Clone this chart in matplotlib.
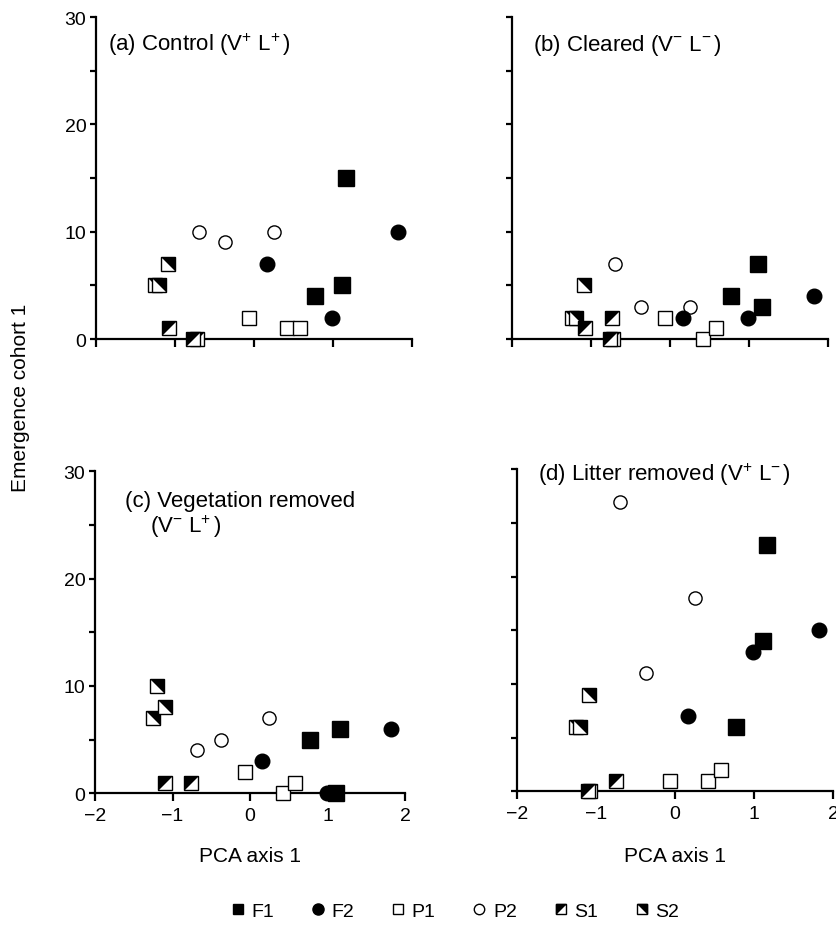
import matplotlib
matplotlib.use("Agg")
import matplotlib.pyplot as plt
from matplotlib.lines import Line2D
from matplotlib.legend_handler import HandlerTuple

plt.rcParams['font.family'] = ['Liberation Sans', 'DejaVu Sans']
plt.rcParams['mathtext.fontset'] = 'custom'
plt.rcParams['mathtext.rm'] = 'Liberation Sans'
plt.rcParams['mathtext.default'] = 'regular'

# site positions on PCA axis 1 (same sites in every panel)
F1_x = [0.77, 1.11, 1.16]
F2_x = [0.16, 0.99, 1.82]
P1_x = [-0.06, 0.42, 0.58]
P2_x = [-0.69, -0.37, 0.25]

# emergence cohort 1 per panel, same site order
F1_y = {'a': [4, 5, 15], 'b': [4, 7, 3], 'c': [5, 0, 6], 'd': [6, 14, 23]}
F2_y = {'a': [7, 2, 10], 'b': [2, 2, 4], 'c': [3, 0, 6], 'd': [7, 13, 15]}
P1_y = {'a': [2, 1, 1], 'b': [2, 0, 1], 'c': [2, 0, 1], 'd': [1, 1, 2]}
P2_y = {'a': [10, 9, 10], 'b': [7, 3, 3], 'c': [4, 5, 7], 'd': [27, 11, 18]}

# S1 / S2 points (overlapping ones included)
S1_x = {'a': [-1.08, -0.72, -0.77], 'b': [-1.08, -0.74, -0.72, -0.76],
        'c': [-1.10, -0.76], 'd': [-1.07, -1.10, -0.75]}
S1_y = {'a': [1, 0, 0], 'b': [1, 2, 0, 0], 'c': [1, 1], 'd': [0, 0, 1]}
S2_x = {'a': [-1.25, -1.20, -1.09], 'b': [-1.24, -1.19, -1.09],
        'c': [-1.25, -1.20, -1.10], 'd': [-1.25, -1.20, -1.09]}
S2_y = {'a': [5, 5, 7], 'b': [2, 2, 5], 'c': [7, 10, 8], 'd': [6, 6, 9]}

titles = {'a': '(a) Control (V$^{+}$ L$^{+\\,}$)',
          'b': '(b) Cleared (V$^{-}$ L$^{-\\,}$)',
          'c': '(c) Vegetation removed',
          'd': '(d) Litter removed (V$^{+}$ L$^{-\\,}$)'}

tri_s1 = [(-1, -1), (-1, 1), (1, 1)]   # black upper-left half
tri_s2 = [(-1, 1), (1, 1), (1, -1)]    # black upper-right half

fig = plt.figure(figsize=(8.37, 9.29), dpi=100)
pos = {'a': [0.1147, 0.634, 0.3775, 0.3466],
       'b': [0.6117, 0.634, 0.3775, 0.3466],
       'c': [0.1135, 0.145, 0.3704, 0.3466],
       'd': [0.6177, 0.147, 0.3775, 0.3466]}


def half_square(ax, xs, ys, tri, ms=11):
    for x, y in zip(xs, ys):
        ax.plot([x], [y], ls='none', marker='s', ms=ms - 1, mfc='white',
                mec='black', mew=1, clip_on=False, zorder=3)
        ax.plot([x], [y], ls='none', marker=tri, ms=ms - 1, mfc='black',
                mec='black', mew=0.5, clip_on=False, zorder=3)


for k in ['a', 'b', 'c', 'd']:
    ax = fig.add_axes(pos[k])
    ax.set_xlim(-2, 2)
    ax.set_ylim(0, 30)
    for s in ['top', 'right']:
        ax.spines[s].set_visible(False)
    for s in ['left', 'bottom']:
        ax.spines[s].set_linewidth(1.6)
    ax.set_xticks([-2, -1, 0, 1, 2])
    ax.set_yticks([0, 10, 20, 30])
    ax.set_yticks([5, 15, 25], minor=True)
    ax.tick_params(axis='x', which='major', direction='out', length=6, width=1.6, labelsize=14, pad=4)
    ax.tick_params(axis='y', which='both', direction='out', length=4, width=1.6, labelsize=14, pad=3)
    if k in ['a', 'b']:
        ax.set_xticklabels([])
    else:
        ax.set_xticklabels(['\u22122', '\u22121', '0', '1', '2'])
    if k in ['b', 'd']:
        ax.set_yticklabels([])

    half_square(ax, S2_x[k], S2_y[k], tri_s2)
    half_square(ax, S1_x[k], S1_y[k], tri_s1)
    ax.plot(P1_x, P1_y[k], ls='none', marker='s', ms=9.5, mfc='white', mec='black', mew=1, clip_on=False, zorder=3)
    ax.plot(P2_x, P2_y[k], ls='none', marker='o', ms=9.5, mfc='white', mec='black', mew=1, clip_on=False, zorder=3)
    ax.plot(F1_x, F1_y[k], ls='none', marker='s', ms=11, color='black', clip_on=False, zorder=4)
    ax.plot(F2_x, F2_y[k], ls='none', marker='o', ms=10.5, color='black', clip_on=False, zorder=4)

    if k == 'a':
        ax.text(0.038, 0.916, titles[k], transform=ax.transAxes, fontsize=16, va='center')
    elif k == 'b':
        ax.text(0.066, 0.916, titles[k], transform=ax.transAxes, fontsize=16, va='center')
    elif k == 'c':
        ax.text(0.097, 0.91, titles[k], transform=ax.transAxes, fontsize=16, va='center')
        ax.text(0.177, 0.83, '(V$^{-}$ L$^{+\\,}$)', transform=ax.transAxes, fontsize=16, va='center')
    else:
        ax.text(0.066, 0.988, titles[k], transform=ax.transAxes, fontsize=16, va='center')

fig.text(0.024, 0.572, 'Emergence cohort 1', rotation=90, fontsize=15, ha='center', va='center')
fig.text(0.299, 0.078, 'PCA axis 1', fontsize=15, ha='center', va='center')
fig.text(0.806, 0.078, 'PCA axis 1', fontsize=15, ha='center', va='center')

# legend
h_f1 = Line2D([], [], ls='none', marker='s', ms=7, color='black')
h_f2 = Line2D([], [], ls='none', marker='o', ms=8, color='black')
h_p1 = Line2D([], [], ls='none', marker='s', ms=7, mfc='white', mec='black', mew=1)
h_p2 = Line2D([], [], ls='none', marker='o', ms=7.5, mfc='white', mec='black', mew=1)
sq = Line2D([], [], ls='none', marker='s', ms=7, mfc='white', mec='black', mew=1)
h_s1 = (sq, Line2D([], [], ls='none', marker=tri_s1, ms=7, color='black'))
h_s2 = (sq, Line2D([], [], ls='none', marker=tri_s2, ms=7, color='black'))
fig.legend([h_f1, h_f2, h_p1, h_p2, h_s1, h_s2], ['F1', 'F2', 'P1', 'P2', 'S1', 'S2'],
           loc='center', bbox_to_anchor=(0.544, 0.018), ncol=6, frameon=False,
           fontsize=14, handlelength=0.7, handletextpad=0.35, columnspacing=1.9,
           handler_map={tuple: HandlerTuple(ndivide=1)})

fig.savefig('out.png', dpi=100)
